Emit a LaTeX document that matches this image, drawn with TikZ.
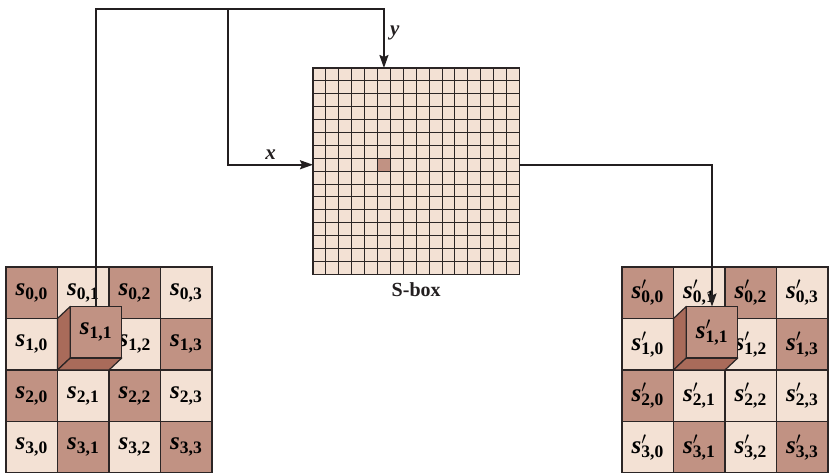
\documentclass[tikz,border=0pt]{standalone}
\usepackage{fontspec}
\setmainfont{Liberation Serif}
\usepackage{tikz}
\usetikzlibrary{positioning, arrows.meta, calc}
\definecolor{celllight}{HTML}{F3E1D4}
\definecolor{celldark}{HTML}{C19283}
\definecolor{cubeside}{HTML}{A96B5A}
\definecolor{ink}{HTML}{231F20}
\definecolor{gridline}{HTML}{2B2525}
\newcommand{\sval}[1]{\textit{s}\textsubscript{#1}}
\newcommand{\svalp}[1]{\textit{s}\rlap{\textsuperscript{$\prime$}}\textsubscript{#1}}
\tikzset{
  cell0/.style  = {rectangle, draw=gridline, line width=1.2pt, fill=celldark,
                   minimum size=51.5pt, inner sep=0pt, outer sep=0pt,
                   font=\fontsize{25}{25}\selectfont\bfseries},
  cell1/.style  = {cell0, fill=celllight},
  face/.style   = {draw=gridline, line width=1.2pt, fill=cubeside, line join=round},
  sbox/.style   = {rectangle, draw=gridline, line width=1.2pt, fill=celllight,
                   minimum size=206.4pt, inner sep=0pt, outer sep=0pt},
  sbcell/.style = {rectangle, draw=gridline, line width=1pt, fill=celldark,
                   minimum size=12.9pt, inner sep=0pt, outer sep=0pt},
  sbline/.style = {draw=gridline, line width=1pt},
  ar/.style     = {-{Stealth[length=13pt,width=9pt,inset=2pt]}, line width=1.8pt, draw=ink},
  lbl/.style    = {font=\fontsize{21}{21}\selectfont\bfseries\itshape, text=ink},
}
\begin{document}
\begin{tikzpicture}[x=1pt, y=-1pt]
  \useasboundingbox (0,0) rectangle (831,473);

  % state before
  \foreach \i in {0,...,3}
    \foreach \j in {0,...,3} {
      \pgfmathtruncatemacro\k{mod(\i+\j,2)}
      \node[cell\k] (L-\i-\j) at (31.75+51.5*\j, 292.75+51.5*\i)
           {\ifnum\i\j=11 \else\sval{\i,\j}\fi};
    }
  \draw[face] (L-1-1.north west) -- ($(L-1-1.north west)+(12.75,-12)$)
       -- ($(L-1-1.south west)+(12.75,-12)$) -- (L-1-1.south west) -- cycle;
  \draw[face] (L-1-1.south west) -- ($(L-1-1.south west)+(12.75,-12)$)
       -- ($(L-1-1.south east)+(12.75,-12)$) -- (L-1-1.south east) -- cycle;
  \node[cell0] (L-cube) at ($(L-1-1)+(12.75,-12)$) {\sval{1,1}};

  % state after
  \foreach \i in {0,...,3}
    \foreach \j in {0,...,3} {
      \pgfmathtruncatemacro\k{(\i==2 && \j==2) ? 1 : mod(\i+\j,2)}
      \node[cell\k] (R-\i-\j) at (647.75+51.5*\j, 292.75+51.5*\i)
           {\ifnum\i\j=11 \else\svalp{\i,\j}\fi};
    }
  \draw[face] (R-1-1.north west) -- ($(R-1-1.north west)+(12.75,-12)$)
       -- ($(R-1-1.south west)+(12.75,-12)$) -- (R-1-1.south west) -- cycle;
  \draw[face] (R-1-1.south west) -- ($(R-1-1.south west)+(12.75,-12)$)
       -- ($(R-1-1.south east)+(12.75,-12)$) -- (R-1-1.south east) -- cycle;
  \node[cell0] (R-cube) at ($(R-1-1)+(12.75,-12)$) {\svalp{1,1}};

  % S-box
  \node[sbox] (sbox) at (416.2,171.2) {};
  \foreach \k in {1,...,15} {
    \draw[sbline] ($(sbox.north west)+(12.9*\k,0)$) -- ($(sbox.south west)+(12.9*\k,0)$);
    \draw[sbline] ($(sbox.north west)+(0,12.9*\k)$) -- ($(sbox.north east)+(0,12.9*\k)$);
  }
  \node[sbcell] (hit) at ($(sbox.north west)+(12.9*5.5,12.9*7.5)$) {};
  \node[font=\fontsize{20}{20}\selectfont\bfseries, text=ink, below=5pt of sbox] (sboxlbl) {S-box};

  \coordinate (top) at (0,9);
  \coordinate (split) at (228,9);
  \draw[ar] (L-cube.north) |- (hit |- top) -- (hit |- sbox.north)
       node[pos=0.4, right=2pt, lbl] {y};
  \draw[ar] (split) |- (sbox.west |- hit) node[pos=0.75, above=1pt, lbl] {x};
  \draw[ar] (sbox.east |- hit) -| (R-cube.north);

\end{tikzpicture}
\end{document}
